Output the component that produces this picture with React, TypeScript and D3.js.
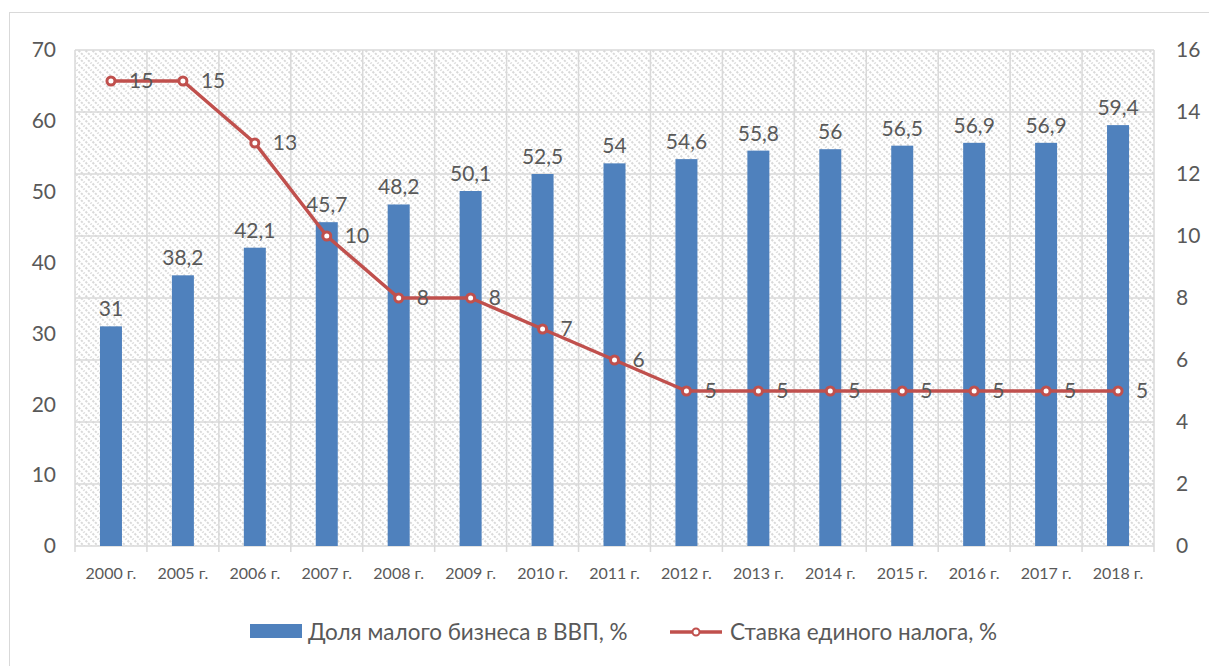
import React from "react";
import * as d3 from "d3";

const categories = ["2000 г.", "2005 г.", "2006 г.", "2007 г.", "2008 г.", "2009 г.", "2010 г.", "2011 г.", "2012 г.", "2013 г.", "2014 г.", "2015 г.", "2016 г.", "2017 г.", "2018 г."];
const shareGdp = [31, 38.2, 42.1, 45.7, 48.2, 50.1, 52.5, 54, 54.6, 55.8, 56, 56.5, 56.9, 56.9, 59.4];
const taxRate = [15, 15, 13, 10, 8, 8, 7, 6, 5, 5, 5, 5, 5, 5, 5];
const leftTicks = [0, 10, 20, 30, 40, 50, 60, 70];
const rightTicks = [0, 2, 4, 6, 8, 10, 12, 14, 16];
const seriesNames = ["Доля малого бизнеса в ВВП, %", "Ставка единого налога, %"];

const W = 1209, H = 666;
const L = 75, R = 1154, T = 50, B = 546;
const FONT = "Lato, 'Open Sans', sans-serif";
const TXT = "#595959";
const BLUE = "#4f81bd";
const RED = "#c0504d";

const fmt = (v: number) => String(v).replace(".", ",");

export default function App() {
  const x = d3.scaleBand<string>().domain(categories).range([L, R]).padding(0);
  const yL = d3.scaleLinear().domain([0, 70]).range([B, T]);
  const yR = d3.scaleLinear().domain([0, 16]).range([B, T]);
  const bw = 22;
  const line = d3.line<number>().x((_, i) => x(categories[i])! + x.bandwidth() / 2).y((d) => yR(d));
  const bounds = categories.map((c) => x(c)!).concat([R]);

  return (
    <svg width={W} height={H} style={{ position: "absolute", left: 0, top: 0, background: "#fff" }} fontFamily={FONT}>
      <defs>
        <pattern id="hatch" patternUnits="userSpaceOnUse" width={7} height={7}>
          <rect width={7} height={7} fill="#fff" />
          <path d="M-1,-1 L8,8 M-8,-1 L1,8 M6,-1 L15,8" stroke="#d9d9d9" strokeWidth={2} strokeDasharray="2.2,1.4" />
        </pattern>
      </defs>
      <rect x={9.5} y={12.5} width={1230} height={700} fill="#fff" stroke="#d9d9d9" strokeWidth={1} />
      <rect x={L} y={T} width={R - L} height={B - T} fill="url(#hatch)" />
      {rightTicks.map((t) => (
        <line key={"h" + t} x1={L} x2={R} y1={yR(t)} y2={yR(t)} stroke="#d9d9d9" strokeWidth={1.5} />
      ))}
      {bounds.map((b, i) => (
        <line key={"v" + i} x1={b} x2={b} y1={T} y2={B + 6} stroke="#d9d9d9" strokeWidth={1.5} />
      ))}
      {shareGdp.map((v, i) => (
        <rect key={"b" + i} x={x(categories[i])! + x.bandwidth() / 2 - bw / 2} y={yL(v)} width={bw} height={B - yL(v)} fill={BLUE} />
      ))}
      {shareGdp.map((v, i) => (
        <text key={"bl" + i} x={x(categories[i])! + x.bandwidth() / 2} y={yL(v) - 10} textAnchor="middle" fontSize={21} fill={TXT}>{fmt(v)}</text>
      ))}
      <path d={line(taxRate)!} fill="none" stroke={RED} strokeWidth={3.5} strokeLinejoin="round" />
      {taxRate.map((v, i) => (
        <circle key={"m" + i} cx={x(categories[i])! + x.bandwidth() / 2} cy={yR(v)} r={4} fill="#fff" stroke={RED} strokeWidth={3} />
      ))}
      {taxRate.map((v, i) => (
        <text key={"ml" + i} x={x(categories[i])! + x.bandwidth() / 2 + 18} y={yR(v)} dy="0.35em" fontSize={21} fill={TXT}>{fmt(v)}</text>
      ))}
      {leftTicks.map((t) => (
        <text key={"lt" + t} x={56} y={yL(t)} dy="0.35em" textAnchor="end" fontSize={21} fill={TXT}>{t}</text>
      ))}
      {rightTicks.map((t) => (
        <text key={"rt" + t} x={1176} y={yR(t)} dy="0.35em" textAnchor="start" fontSize={21} fill={TXT}>{t}</text>
      ))}
      {categories.map((c) => (
        <text key={"c" + c} x={x(c)! + x.bandwidth() / 2} y={573} dy="0.35em" textAnchor="middle" fontSize={16} fill={TXT}>{c}</text>
      ))}
      <rect x={250} y={624} width={52} height={14} fill={BLUE} />
      <text x={308} y={632} dy="0.35em" fontSize={22.5} fill={TXT}>{seriesNames[0]}</text>
      <line x1={670} x2={722} y1={632} y2={632} stroke={RED} strokeWidth={3.5} />
      <circle cx={696} cy={632} r={3.5} fill="#fff" stroke={RED} strokeWidth={2} />
      <text x={730} y={632} dy="0.35em" fontSize={22.5} fill={TXT}>{seriesNames[1]}</text>
    </svg>
  );
}
